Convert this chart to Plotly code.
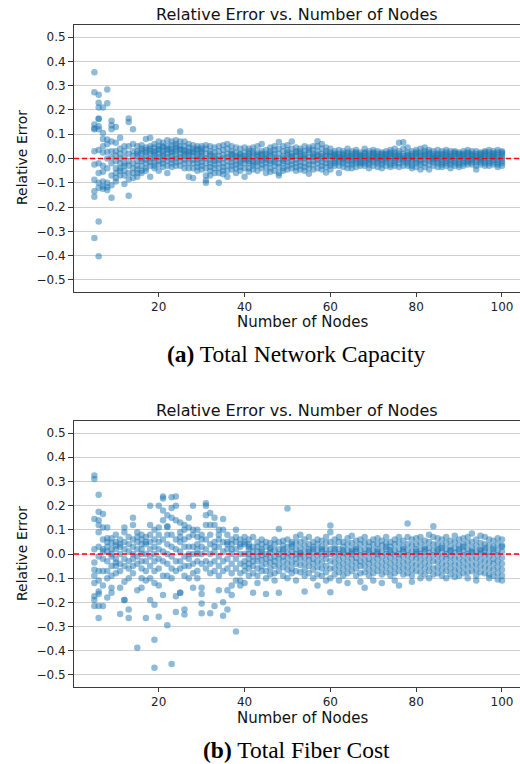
import plotly.graph_objects as go

# ---------------- data ----------------
NODES_A = [5, 6, 7, 8, 9, 10, 11, 12, 13, 14]
NODES_B = [15, 16, 17, 18, 19, 20, 21, 22, 23, 24, 25, 26, 27, 28, 29, 30, 31, 32, 33, 34, 35, 36, 37, 38, 39, 40]
NODES_C = [41, 42, 43, 44, 45, 46, 47, 48, 49, 50, 51, 52, 53, 54, 55, 56, 57, 58, 59, 60]
NODES_D = [61, 62, 63, 64, 65, 66, 67, 68, 69, 70, 71, 72, 73, 74, 75, 76, 77, 78, 79, 80,
           81, 82, 83, 84, 85, 86, 87, 88, 89, 90, 91, 92, 93, 94, 95, 96, 97, 98, 99, 100]

# (a) Total Network Capacity: relative errors per node count
cap_err_A = [
    [0.355, 0.273, 0.14, 0.12, 0.125, 0.03, -0.025, -0.088, -0.135, -0.158, -0.328],
    [0.263, 0.23, 0.21, 0.165, 0.163, 0.133, 0.12, 0.035, -0.02, -0.06, -0.1, -0.12, -0.26, -0.403],
    [0.21, 0.105, 0.08, 0.05, 0.025, -0.03, -0.055, -0.095, -0.115, -0.125],
    [0.284, 0.228, 0.078, 0.06, 0.028, 0.0, -0.04, -0.1, -0.118, -0.13],
    [0.156, 0.137, 0.12, 0.07, 0.03, 0.005, -0.02, -0.07, -0.11, -0.162],
    [0.13, 0.065, 0.03, 0.012, -0.01, -0.04, -0.06, -0.08, -0.095],
    [0.085, 0.04, 0.02, 0.0, -0.02, -0.04, -0.05, -0.07],
    [0.05, 0.03, 0.005, -0.02, -0.03, -0.05, -0.07, -0.105],
    [0.165, 0.15, 0.05, 0.02, -0.01, -0.03, -0.06, -0.085, -0.153],
    [0.12, 0.06, 0.03, 0.01, -0.02, -0.04, -0.06, -0.08],
]
cap_err_B = [
    [0.05, 0.03, 0.01, -0.01, -0.03, -0.045, -0.06, -0.075, 0.02],
    [0.055, 0.04, 0.02, 0.0, -0.01, -0.03, -0.05, -0.06, 0.03],
    [0.08, 0.045, 0.025, 0.01, -0.005, -0.02, -0.04, -0.05, 0.035],
    [0.085, 0.05, 0.03, 0.02, 0.0, -0.015, -0.03, -0.075, 0.04],
    [0.06, 0.045, 0.03, 0.015, 0.0, -0.015, -0.03, -0.04, 0.025],
    [0.07, 0.05, 0.035, 0.02, 0.005, -0.01, -0.025, -0.05, 0.04],
    [0.065, 0.045, 0.03, 0.02, 0.01, -0.005, -0.02, -0.035, 0.05],
    [0.075, 0.05, 0.035, 0.02, 0.005, -0.01, -0.03, -0.06, 0.04],
    [0.07, 0.055, 0.04, 0.025, 0.01, -0.005, -0.02, -0.035, 0.03],
    [0.075, 0.06, 0.04, 0.03, 0.015, 0.0, -0.015, -0.03, 0.05],
    [0.111, 0.07, 0.05, 0.035, 0.02, 0.005, -0.01, -0.03, 0.04],
    [0.07, 0.05, 0.035, 0.02, 0.01, -0.005, -0.02, -0.04, 0.03],
    [0.06, 0.045, 0.03, 0.015, 0.0, -0.02, -0.04, -0.075, 0.025],
    [0.055, 0.04, 0.025, 0.01, -0.005, -0.02, -0.04, -0.08, 0.03],
    [0.05, 0.035, 0.02, 0.01, -0.005, -0.02, -0.035, -0.05, 0.04],
    [0.05, 0.04, 0.025, 0.01, 0.0, -0.015, -0.03, -0.045, 0.03],
    [0.055, 0.04, 0.02, 0.0, -0.02, -0.04, -0.07, -0.09, -0.1],
    [0.05, 0.03, 0.01, -0.005, -0.02, -0.035, -0.05, -0.07, 0.02],
    [0.045, 0.025, 0.01, -0.01, -0.025, -0.04, -0.06, 0.0],
    [0.05, 0.03, 0.01, -0.005, -0.02, -0.04, -0.06, -0.1],
    [0.055, 0.035, 0.015, 0.0, -0.02, -0.035, -0.05, -0.065],
    [0.06, 0.04, 0.02, 0.005, -0.01, -0.03, -0.05, -0.075],
    [0.05, 0.03, 0.015, 0.0, -0.015, -0.03, -0.045, 0.02],
    [0.045, 0.025, 0.01, -0.01, -0.025, -0.04, -0.06, 0.005],
    [0.04, 0.02, 0.005, -0.01, -0.02, -0.035, -0.05, 0.015],
    [0.045, 0.025, 0.01, -0.005, -0.02, -0.04, -0.075, 0.0],
]
cap_err_C = [
    [0.04, 0.02, 0.01, 0.0, -0.01, -0.02, -0.04, -0.055, 0.03],
    [0.03, 0.02, 0.005, -0.01, -0.02, -0.03, -0.045, 0.045],
    [0.05, 0.025, 0.01, -0.005, -0.015, -0.03, -0.05, 0.015],
    [0.06, 0.03, 0.015, 0.0, -0.01, -0.025, -0.04, 0.02],
    [0.035, 0.02, 0.01, -0.005, -0.02, -0.035, -0.06, 0.0],
    [0.045, 0.03, 0.01, -0.01, -0.02, -0.04, -0.055, 0.02],
    [0.05, 0.02, 0.005, -0.005, -0.015, -0.03, -0.05, 0.035],
    [0.068, 0.04, 0.02, 0.0, -0.02, -0.035, -0.06, -0.07],
    [0.05, 0.03, 0.01, -0.01, -0.02, -0.04, -0.05, 0.0],
    [0.055, 0.035, 0.015, 0.0, -0.015, -0.03, -0.045, 0.025],
    [0.07, 0.04, 0.02, 0.005, -0.01, -0.025, -0.04, 0.01],
    [0.045, 0.025, 0.01, -0.005, -0.02, -0.035, -0.05, 0.03],
    [0.04, 0.02, 0.0, -0.015, -0.03, -0.045, 0.01, 0.03],
    [0.05, 0.03, 0.015, 0.0, -0.02, -0.035, -0.05, 0.005],
    [0.045, 0.025, 0.005, -0.01, -0.025, -0.04, -0.063, 0.035],
    [0.05, 0.035, 0.02, 0.005, -0.01, -0.025, -0.045, 0.01],
    [0.071, 0.05, 0.03, 0.01, -0.005, -0.02, -0.04, 0.015],
    [0.06, 0.04, 0.02, 0.0, -0.015, -0.03, -0.045, 0.01],
    [0.045, 0.03, 0.01, -0.005, -0.02, -0.035, -0.058, 0.02],
    [0.04, 0.025, 0.01, -0.005, -0.02, -0.03, -0.045, 0.015],
]
cap_err_D = [
    [0.03, 0.02, 0.01, 0.0, -0.01, -0.02, -0.03, 0.015],
    [0.035, 0.02, 0.005, -0.005, -0.015, -0.03, -0.06, 0.01],
    [0.03, 0.015, 0.005, -0.01, -0.02, -0.035, 0.02, 0.0],
    [0.04, 0.025, 0.01, 0.0, -0.01, -0.025, -0.04, 0.015],
    [0.03, 0.02, 0.005, -0.005, -0.015, -0.025, -0.04, 0.01],
    [0.035, 0.02, 0.01, 0.0, -0.01, -0.02, -0.035, 0.025],
    [0.025, 0.015, 0.005, -0.005, -0.015, -0.03, 0.01, -0.02],
    [0.04, 0.025, 0.01, 0.0, -0.01, -0.02, -0.03, 0.02],
    [0.03, 0.02, 0.01, -0.005, -0.015, -0.025, -0.04, 0.0],
    [0.035, 0.02, 0.005, -0.005, -0.015, -0.03, 0.015, 0.025],
    [0.03, 0.02, 0.01, 0.0, -0.01, -0.02, -0.035, 0.005],
    [0.025, 0.015, 0.005, -0.005, -0.015, -0.025, -0.04, 0.02],
    [0.03, 0.02, 0.01, -0.005, -0.015, -0.03, 0.0, 0.015],
    [0.035, 0.02, 0.01, 0.0, -0.01, -0.025, -0.035, 0.025],
    [0.04, 0.025, 0.01, 0.0, -0.01, -0.02, -0.03, 0.015],
    [0.065, 0.03, 0.02, 0.005, -0.005, -0.02, -0.035, 0.01],
    [0.067, 0.04, 0.02, 0.01, -0.005, -0.015, -0.03, 0.0],
    [0.045, 0.025, 0.01, 0.0, -0.01, -0.02, -0.03, 0.015],
    [0.03, 0.02, 0.005, -0.005, -0.015, -0.03, -0.04, 0.01],
    [0.035, 0.02, 0.01, 0.0, -0.01, -0.02, -0.035, 0.025],
    [0.04, 0.025, 0.01, -0.005, -0.015, -0.025, -0.045, 0.015],
    [0.045, 0.03, 0.015, 0.005, -0.005, -0.02, -0.035, 0.02],
    [0.035, 0.02, 0.01, 0.0, -0.01, -0.025, -0.045, 0.025],
    [0.03, 0.02, 0.005, -0.005, -0.015, -0.03, 0.01, 0.0],
    [0.035, 0.02, 0.01, 0.0, -0.01, -0.02, -0.035, 0.015],
    [0.03, 0.015, 0.005, -0.005, -0.015, -0.025, 0.02, -0.035],
    [0.035, 0.025, 0.01, 0.0, -0.01, -0.02, -0.03, 0.015],
    [0.03, 0.02, 0.01, -0.005, -0.015, -0.025, -0.04, 0.005],
    [0.03, 0.02, 0.01, 0.0, -0.01, -0.02, -0.03, 0.025],
    [0.025, 0.015, 0.005, -0.005, -0.015, -0.025, -0.035, 0.02],
    [0.03, 0.02, 0.01, 0.0, -0.01, -0.02, -0.03, 0.015],
    [0.035, 0.02, 0.01, 0.0, -0.01, -0.025, 0.025, -0.015],
    [0.03, 0.02, 0.01, -0.005, -0.015, -0.025, 0.0, 0.015],
    [0.03, 0.02, 0.005, -0.005, -0.015, -0.03, -0.045, 0.01],
    [0.025, 0.015, 0.005, -0.005, -0.015, -0.025, 0.02, 0.0],
    [0.03, 0.02, 0.01, 0.0, -0.01, -0.02, -0.03, 0.025],
    [0.035, 0.025, 0.01, 0.0, -0.01, -0.02, -0.03, 0.015],
    [0.03, 0.02, 0.01, -0.005, -0.015, -0.025, 0.005, 0.02],
    [0.035, 0.025, 0.015, 0.005, -0.005, -0.015, -0.025, -0.035],
    [0.03, 0.02, 0.01, 0.0, -0.01, -0.02, -0.03, 0.025],
]

# (b) Total Fiber Cost: relative errors per node count
fib_err_A = [
    [0.325, 0.31, 0.145, 0.02, -0.035, -0.065, -0.09, -0.12, -0.175, -0.19, -0.215],
    [0.245, 0.175, 0.14, 0.12, 0.09, 0.03, -0.01, -0.07, -0.11, -0.155, -0.165, -0.215, -0.265],
    [0.165, 0.11, 0.06, 0.02, -0.02, -0.07, -0.13, -0.215, 0.01],
    [0.11, 0.065, 0.05, 0.01, -0.03, -0.07, -0.1, -0.18, 0.03],
    [0.065, 0.045, 0.02, -0.01, -0.05, -0.09, -0.14, -0.16, 0.0],
    [0.08, 0.05, 0.02, -0.02, -0.05, -0.08, 0.035, -0.035],
    [0.06, 0.03, 0.0, -0.04, -0.07, -0.14, -0.248, 0.04],
    [0.11, 0.09, 0.05, 0.02, -0.02, -0.05, -0.115, -0.19, -0.19],
    [0.07, 0.04, 0.01, -0.03, -0.06, -0.1, -0.23, -0.265],
    [0.15, 0.12, 0.06, 0.03, 0.0, -0.02, -0.05, -0.08],
]
fib_err_B = [
    [0.09, 0.05, 0.02, -0.01, -0.04, -0.15, -0.388, 0.07],
    [0.08, 0.06, 0.04, 0.0, -0.03, -0.06, -0.1, -0.14, 0.02],
    [0.07, 0.04, 0.0, -0.03, -0.07, -0.11, -0.265, 0.05],
    [0.2, 0.12, 0.05, 0.02, -0.01, -0.05, -0.1, -0.19, 0.08],
    [0.1, 0.03, 0.0, -0.03, -0.07, -0.12, -0.21, -0.355, -0.47, 0.06],
    [0.2, 0.11, 0.05, 0.02, -0.02, -0.06, -0.13, -0.26, 0.08],
    [0.238, 0.23, 0.18, 0.14, 0.06, 0.01, -0.03, -0.09, -0.17],
    [0.115, 0.112, 0.16, 0.08, 0.04, 0.0, -0.04, -0.09, -0.295],
    [0.235, 0.19, 0.15, 0.08, 0.03, -0.01, -0.06, -0.1, -0.455],
    [0.238, 0.2, 0.14, 0.06, 0.02, -0.03, -0.07, -0.175, -0.24],
    [0.13, 0.09, 0.05, 0.01, -0.03, -0.06, -0.16, -0.16, 0.07],
    [0.12, 0.1, 0.06, 0.03, -0.01, -0.05, -0.09, -0.23, -0.25],
    [0.15, 0.11, 0.07, 0.03, -0.02, -0.05, -0.1, 0.0],
    [0.2, 0.1, 0.08, 0.03, 0.0, -0.04, -0.08, -0.14],
    [0.1, 0.07, 0.04, 0.0, -0.03, -0.07, -0.1, 0.02],
    [0.06, 0.03, 0.0, -0.04, -0.14, -0.165, -0.205, -0.245, 0.08],
    [0.21, 0.2, 0.16, 0.12, 0.06, 0.02, -0.03, -0.06],
    [0.17, 0.12, 0.08, 0.04, 0.0, -0.04, -0.08, -0.245],
    [0.15, 0.12, 0.05, 0.01, -0.03, -0.07, -0.215, 0.03],
    [0.1, 0.06, 0.03, -0.01, -0.05, -0.09, -0.15, 0.08],
    [0.145, 0.1, 0.05, 0.01, -0.03, -0.07, -0.2, -0.255],
    [0.08, 0.05, 0.02, -0.02, -0.06, -0.15, -0.23, 0.04],
    [0.06, 0.04, 0.0, -0.04, -0.08, -0.13, -0.17, 0.02],
    [0.1, 0.05, 0.02, -0.02, -0.06, -0.11, -0.32, 0.07],
    [0.06, 0.03, 0.0, -0.04, -0.08, -0.11, -0.13, 0.04],
    [0.07, 0.04, 0.0, -0.03, -0.07, -0.12, 0.05, -0.05],
]
fib_err_C = [
    [0.06, 0.04, 0.02, 0.0, -0.02, -0.04, -0.06, -0.09, 0.03],
    [0.07, 0.03, 0.01, -0.01, -0.03, -0.05, -0.08, -0.16],
    [0.05, 0.03, 0.01, -0.01, -0.03, -0.06, -0.09, -0.12],
    [0.06, 0.04, 0.02, -0.005, -0.025, -0.05, -0.07, 0.01],
    [0.05, 0.03, 0.0, -0.02, -0.04, -0.07, -0.1, -0.165],
    [0.045, 0.025, 0.005, -0.015, -0.035, -0.06, -0.085, 0.02],
    [0.06, 0.04, 0.015, -0.01, -0.03, -0.05, -0.08, -0.11],
    [0.103, 0.05, 0.02, 0.0, -0.02, -0.045, -0.07, -0.16],
    [0.055, 0.035, 0.01, -0.01, -0.03, -0.055, -0.09, 0.02],
    [0.188, 0.06, 0.03, 0.005, -0.015, -0.04, -0.065, -0.1],
    [0.05, 0.03, 0.01, -0.01, -0.035, -0.06, -0.08, 0.04],
    [0.07, 0.045, 0.02, 0.0, -0.02, -0.04, -0.07, -0.11],
    [0.08, 0.05, 0.025, 0.005, -0.02, -0.045, -0.075, 0.0],
    [0.06, 0.035, 0.01, -0.015, -0.04, -0.065, -0.09, -0.155],
    [0.07, 0.04, 0.02, -0.005, -0.025, -0.05, -0.08, 0.01],
    [0.05, 0.03, 0.005, -0.02, -0.04, -0.065, -0.1, 0.02],
    [0.06, 0.04, 0.015, -0.005, -0.03, -0.055, -0.085, -0.13],
    [0.055, 0.03, 0.01, -0.01, -0.035, -0.06, -0.09, 0.02],
    [0.07, 0.045, 0.02, 0.0, -0.02, -0.05, -0.075, -0.11],
    [0.118, 0.09, 0.05, 0.02, 0.0, -0.03, -0.06, -0.1, -0.158],
]
fib_err_D = [
    [0.06, 0.035, 0.01, -0.01, -0.035, -0.06, -0.085, 0.02],
    [0.07, 0.05, 0.02, 0.0, -0.025, -0.05, -0.075, -0.11],
    [0.05, 0.03, 0.005, -0.015, -0.04, -0.065, -0.09, 0.015],
    [0.065, 0.04, 0.015, -0.005, -0.03, -0.055, -0.08, -0.12],
    [0.075, 0.045, 0.02, 0.0, -0.02, -0.045, -0.07, 0.01],
    [0.055, 0.03, 0.01, -0.015, -0.035, -0.06, -0.09, 0.02],
    [0.06, 0.04, 0.015, -0.005, -0.03, -0.05, -0.08, -0.115],
    [0.07, 0.045, 0.02, 0.0, -0.025, -0.05, -0.075, -0.14],
    [0.05, 0.03, 0.005, -0.02, -0.04, -0.065, -0.09, 0.015],
    [0.06, 0.04, 0.015, -0.005, -0.03, -0.055, -0.08, -0.11],
    [0.065, 0.04, 0.02, 0.0, -0.02, -0.045, -0.07, 0.01],
    [0.055, 0.035, 0.01, -0.01, -0.035, -0.06, -0.085, -0.12],
    [0.07, 0.045, 0.02, 0.0, -0.025, -0.05, -0.075, 0.03],
    [0.05, 0.03, 0.005, -0.015, -0.04, -0.065, -0.09, 0.015],
    [0.06, 0.04, 0.015, -0.005, -0.03, -0.055, -0.08, -0.11],
    [0.07, 0.045, 0.02, 0.0, -0.02, -0.045, -0.07, -0.13],
    [0.055, 0.03, 0.01, -0.01, -0.035, -0.06, -0.085, 0.02],
    [0.126, 0.07, 0.04, 0.015, -0.005, -0.03, -0.055, -0.08],
    [0.06, 0.035, 0.01, -0.015, -0.04, -0.065, -0.09, -0.115],
    [0.065, 0.04, 0.02, 0.0, -0.02, -0.045, -0.07, 0.01],
    [0.07, 0.045, 0.02, 0.0, -0.025, -0.05, -0.075, -0.1],
    [0.055, 0.03, 0.01, -0.01, -0.035, -0.06, -0.085, 0.02],
    [0.08, 0.05, 0.025, 0.005, -0.02, -0.045, -0.07, -0.1],
    [0.115, 0.07, 0.04, 0.015, -0.005, -0.03, -0.06, -0.085],
    [0.065, 0.04, 0.015, -0.005, -0.03, -0.055, -0.08, 0.02],
    [0.06, 0.035, 0.01, -0.015, -0.04, -0.065, -0.09, 0.025],
    [0.07, 0.045, 0.02, 0.0, -0.02, -0.045, -0.07, -0.1],
    [0.055, 0.03, 0.01, -0.01, -0.035, -0.06, -0.085, 0.015],
    [0.075, 0.05, 0.025, 0.005, -0.02, -0.045, -0.07, -0.095],
    [0.06, 0.035, 0.01, -0.015, -0.04, -0.065, -0.09, 0.02],
    [0.065, 0.04, 0.015, -0.005, -0.03, -0.055, -0.08, 0.03],
    [0.07, 0.045, 0.02, 0.0, -0.025, -0.05, -0.075, -0.1],
    [0.085, 0.05, 0.025, 0.005, -0.02, -0.045, -0.07, 0.01],
    [0.06, 0.035, 0.01, -0.015, -0.04, -0.065, -0.09, -0.11],
    [0.075, 0.045, 0.02, 0.0, -0.025, -0.05, -0.075, 0.015],
    [0.07, 0.04, 0.015, -0.005, -0.03, -0.055, -0.08, 0.025],
    [0.06, 0.035, 0.01, -0.01, -0.035, -0.06, -0.085, -0.1],
    [0.055, 0.03, 0.005, -0.02, -0.04, -0.065, -0.09, 0.02],
    [0.065, 0.04, 0.015, -0.005, -0.03, -0.055, -0.08, -0.105],
    [0.06, 0.035, 0.01, -0.015, -0.04, -0.065, -0.09, -0.11, 0.03],
]

Y_TICKS = [0.5, 0.4, 0.3, 0.2, 0.1, 0.0, -0.1, -0.2, -0.3, -0.4, -0.5]
X_TICKS = [20, 40, 60, 80, 100]
TITLE = "Relative Error vs. Number of Nodes"
X_LABEL = "Number of Nodes"
Y_LABEL = "Relative Error"
CAPTION_A = "<b>(a)</b> Total Network Capacity"
CAPTION_B = "<b>(b)</b> Total Fiber Cost"


def flatten(node_groups, err_groups):
    xs, ys = [], []
    for nodes, errs in zip(node_groups, err_groups):
        for n, vals in zip(nodes, errs):
            for v in vals:
                xs.append(n)
                ys.append(v)
    return xs, ys


node_groups = [NODES_A, NODES_B, NODES_C, NODES_D]
cap_x, cap_y = flatten(node_groups, [cap_err_A, cap_err_B, cap_err_C, cap_err_D])
fib_x, fib_y = flatten(node_groups, [fib_err_A, fib_err_B, fib_err_C, fib_err_D])

# ---------------- layout geometry (pixels) ----------------
W, H = 520, 764
def fx(p):
    return p / W
def fy(p):
    return 1 - p / H

BLUE = "rgba(31,119,180,0.5)"
marker = dict(size=6.5, color=BLUE, line=dict(width=0))

fig = go.Figure()
fig.add_trace(go.Scatter(x=cap_x, y=cap_y, mode="markers", marker=marker,
                         xaxis="x", yaxis="y", showlegend=False, hoverinfo="skip"))
fig.add_trace(go.Scatter(x=fib_x, y=fib_y, mode="markers", marker=marker,
                         xaxis="x2", yaxis="y2", showlegend=False, hoverinfo="skip"))

TICKFONT = dict(family="DejaVu Sans", size=12, color="#222")
xcommon = dict(range=[0.25, 104.2], tickvals=X_TICKS, ticktext=[str(t) for t in X_TICKS],
               showgrid=False, zeroline=False, showline=True, mirror=True,
               linecolor="#3a3a3a", linewidth=1, ticks="outside", ticklen=4,
               tickwidth=1, tickcolor="#3a3a3a", tickfont=TICKFONT,
               domain=[fx(74), 1.0])
ycommon = dict(range=[-0.55, 0.55], tickvals=Y_TICKS, tickformat=".1f",
               showgrid=True, gridcolor="#cfcfcf", gridwidth=1, zeroline=False,
               showline=True, mirror=True, linecolor="#3a3a3a", linewidth=1,
               ticks="outside", ticklen=5, tickwidth=1, tickcolor="#3a3a3a",
               tickfont=TICKFONT)

fig.update_layout(
    width=W, height=H,
    margin=dict(l=0, r=0, t=0, b=0),
    paper_bgcolor="white", plot_bgcolor="white",
    xaxis=dict(**xcommon, anchor="y"),
    yaxis=dict(**ycommon, anchor="x", domain=[fy(292), fy(25)]),
    xaxis2=dict(**xcommon, anchor="y2"),
    yaxis2=dict(**ycommon, anchor="x2", domain=[fy(687), fy(421)]),
)

# red dashed zero line
for xr, yr in [("x domain", "y"), ("x2 domain", "y2")]:
    fig.add_shape(type="line", xref=xr, yref=yr, x0=0, x1=1, y0=0, y1=0,
                  line=dict(color="red", width=1.3, dash="5px,3px"), layer="above")

ann = []
for off in (0, 396):
    ann.append(dict(text=TITLE, x=fx(297), y=fy(14 + off), xref="paper", yref="paper",
                    showarrow=False, xanchor="center", yanchor="middle",
                    font=dict(family="DejaVu Sans", size=16, color="#111")))
    ann.append(dict(text=X_LABEL, x=fx(302), y=fy(322 + off), xref="paper", yref="paper",
                    showarrow=False, xanchor="center", yanchor="middle",
                    font=dict(family="DejaVu Sans", size=15, color="#111")))
    ann.append(dict(text=Y_LABEL, x=fx(22), y=fy(158 + off), xref="paper", yref="paper",
                    showarrow=False, xanchor="center", yanchor="middle", textangle=-90,
                    font=dict(family="DejaVu Sans", size=14, color="#111")))
for cap, yy in [(CAPTION_A, 354), (CAPTION_B, 750)]:
    ann.append(dict(text=cap, x=fx(296), y=fy(yy), xref="paper", yref="paper",
                    showarrow=False, xanchor="center", yanchor="middle",
                    font=dict(family="Liberation Serif", size=23.5, color="#000")))
fig.update_layout(annotations=ann)

fig.write_html("out.html", config={"displayModeBar": False},
               post_script="document.body.style.margin='0';document.body.style.padding='0';")
